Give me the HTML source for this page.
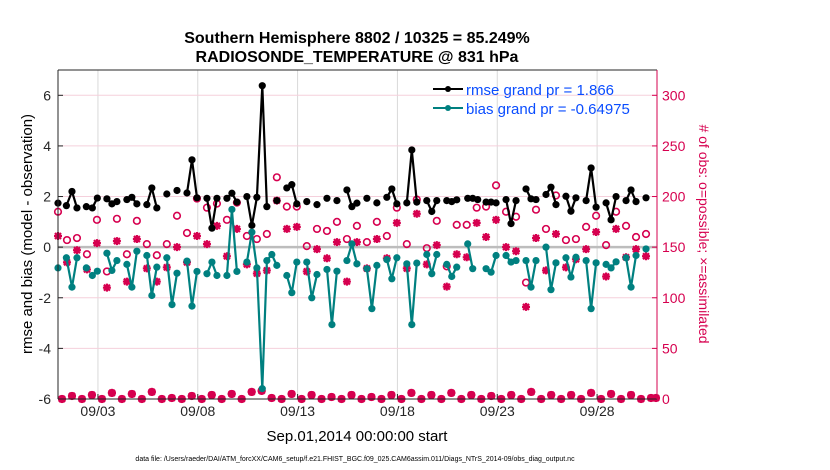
<!DOCTYPE html>
<html><head><meta charset="utf-8"><style>
body{margin:0;background:#fff;}
svg{display:block;font-family:"Liberation Sans",Arial,sans-serif;}
</style></head><body>
<svg id="chart" width="830" height="470" viewBox="0 0 830 470" xmlns="http://www.w3.org/2000/svg">
<rect width="830" height="470" fill="#fff"/>
<g id="grid"></g><g id="marks"></g><g id="axes"></g>
<text x="357" y="43" text-anchor="middle" font-size="16" font-weight="bold">Southern Hemisphere 8802 / 10325 = 85.249%</text>
<text x="357" y="62" text-anchor="middle" font-size="16" font-weight="bold">RADIOSONDE_TEMPERATURE @ 831 hPa</text>
<text x="357" y="441" text-anchor="middle" font-size="15">Sep.01,2014 00:00:00 start</text>
<text transform="translate(32,234) rotate(-90)" text-anchor="middle" font-size="15">rmse and bias (model - observation)</text>
<text transform="translate(699,234) rotate(90)" text-anchor="middle" font-size="14" fill="#d6004f"># of obs: o=possible; ×=assimilated</text>
<text x="355" y="461" text-anchor="middle" font-size="7">data file: /Users/raeder/DAI/ATM_forcXX/CAM6_setup/f.e21.FHIST_BGC.f09_025.CAM6assim.011/Diags_NTrS_2014-09/obs_diag_output.nc</text>
<g>
<line x1="433" y1="89" x2="463" y2="89" stroke="#000" stroke-width="2"/><circle cx="448" cy="89" r="3" fill="#000"/>
<text x="466" y="95" font-size="15" fill="#0a4dff">rmse grand pr = 1.866</text>
<line x1="433" y1="108" x2="463" y2="108" stroke="#008080" stroke-width="2"/><circle cx="448" cy="108" r="3" fill="#008080"/>
<text x="466" y="114" font-size="15" fill="#0a4dff">bias grand pr = -0.64975</text>
</g>
</svg>
<script>
const rmseDays=[1.00,1.42,1.70,1.95,2.42,2.72,2.97,3.45,3.70,3.95,4.45,4.70,4.95,5.45,5.70,5.95,6.45,6.96,7.46,7.71,7.96,8.46,8.71,8.96,9.46,9.71,9.96,10.46,10.71,10.96,11.23,11.46,11.96,12.46,12.71,12.96,13.46,13.97,14.47,14.97,15.47,15.72,15.97,16.47,16.97,17.47,17.72,17.97,18.47,18.72,18.97,19.47,19.72,19.97,20.47,20.72,20.97,21.52,21.77,22.02,22.44,22.69,22.94,23.44,23.69,23.94,24.44,24.69,24.94,25.44,25.69,25.94,26.44,26.69,26.94,27.45,27.70,27.95,28.45,28.70,28.95,29.45,29.70,29.95,30.45];
const rmseVals=[1.74,1.64,2.20,1.55,1.60,1.55,1.94,1.91,1.71,1.80,1.88,1.97,1.71,1.68,2.34,1.55,2.10,2.24,2.14,3.45,1.95,1.93,0.75,1.93,1.93,2.13,1.78,2.00,0.86,1.97,6.38,1.60,1.84,2.34,2.47,1.71,1.80,1.68,1.93,1.84,2.26,1.60,1.74,1.93,1.75,1.97,2.30,1.71,1.75,3.84,1.78,1.84,1.41,1.84,1.84,1.80,1.87,1.93,1.93,1.88,1.78,1.78,1.75,1.88,0.93,1.84,2.30,1.91,1.88,2.08,2.37,1.68,2.01,1.42,1.95,1.84,3.13,1.58,1.75,1.08,2.00,1.84,2.26,1.80,1.95];
const biasDays=[1.00,1.42,1.70,1.95,2.42,2.72,2.97,3.45,3.70,3.95,4.45,4.70,4.95,5.45,5.70,5.95,6.45,6.71,6.96,7.46,7.71,7.96,8.46,8.71,8.96,9.46,9.71,9.96,10.46,10.71,10.96,11.23,11.46,11.71,11.96,12.46,12.71,12.96,13.46,13.71,13.97,14.47,14.72,14.97,15.47,15.72,15.97,16.47,16.72,16.97,17.47,17.72,17.97,18.47,18.72,18.97,19.47,19.72,19.97,20.47,20.72,20.97,21.52,21.77,22.44,22.69,22.94,23.44,23.69,23.94,24.44,24.69,24.94,25.44,25.69,25.94,26.44,26.69,26.94,27.45,27.70,27.95,28.45,28.70,28.95,29.45,29.70,29.95,30.45];
const biasVals=[-0.82,-0.42,-1.58,-0.42,-0.82,-1.12,-0.95,-0.24,-0.92,-0.53,-0.68,-1.58,-0.16,-0.33,-1.91,-0.79,-0.42,-2.27,-1.03,-0.55,-2.33,-0.96,-1.05,-0.59,-1.12,-1.12,1.49,-0.96,-0.59,0.59,-0.82,-5.59,-0.53,-0.29,-0.72,-1.12,-1.80,-0.59,-0.59,-2.00,-1.08,-0.88,-3.06,-0.95,-0.53,0.13,-0.66,-0.85,-2.43,-0.72,-0.49,-1.25,-0.42,-0.66,-3.06,-0.63,-0.29,-1.05,-0.29,-0.68,-1.16,-0.79,0.13,-0.85,-0.85,-0.99,-0.33,-0.33,-0.59,-0.53,-0.53,-1.58,-0.53,0.00,-1.68,-0.62,-0.42,-1.18,-0.40,-0.53,-2.43,-0.62,-0.68,-0.82,-0.58,-0.42,-1.58,-0.33,-0.07];
const obsDays=[1.00,1.45,1.95,2.45,2.95,3.45,3.95,4.45,4.95,5.45,5.95,6.45,6.96,7.46,7.96,8.46,8.96,9.46,9.96,10.46,10.96,11.46,11.96,12.46,12.96,13.46,13.97,14.47,14.97,15.47,15.97,16.47,16.97,17.47,17.97,18.47,18.97,19.47,19.97,20.47,20.97,21.47,21.97,22.44,22.94,23.44,23.94,24.44,24.94,25.44,25.94,26.44,26.94,27.45,27.95,28.45,28.95,29.45,29.95,30.45];
const possibleVals=[185,157,159,143,177,126,178,143,176,153,142,153,181,164,198,189,193,177,194,161,158,163,219,190,190,151,168,166,175,158,171,155,175,161,189,153,197,149,176,131,172,172,189,190,211,185,180,115,187,168,201,157,158,170,181,152,185,171,160,163];
const assimVals=[161,135,147,128,154,110,156,116,158,129,116,130,150,135,161,153,171,141,168,133,124,127,196,168,170,126,148,139,155,116,155,129,158,139,174,129,183,133,152,111,143,140,174,160,177,150,146,91,159,127,163,130,138,148,165,121,168,140,148,141];
const lowDays=[1.2,1.7,2.2,2.7,3.2,3.7,4.2,4.7,5.2,5.7,6.2,6.7,7.2,7.7,8.2,8.7,9.2,9.7,10.2,10.7,11.2,11.7,12.2,12.7,13.2,13.7,14.2,14.7,15.2,15.7,16.2,16.7,17.2,17.7,18.2,18.7,19.2,19.7,20.2,20.7,21.2,21.7,22.2,22.7,23.2,23.7,24.2,24.7,25.2,25.7,26.2,26.7,27.2,27.7,28.2,28.7,29.2,29.7,30.2,30.7,30.95];
const lowVals=[0,3,0,4,0,6,0,5,0,7,0,1,0,3,0,4,0,5,0,7,8,1,0,5,0,4,0,2,0,4,0,2,0,4,0,6,0,4,0,6,0,4,0,3,0,4,0,7,0,4,0,4,0,6,0,5,0,4,0,1,1];
const leftTicks=[-6,-4,-2,0,2,4,6];
const rightTicks=[0,50,100,150,200,250,300];
const xTickDays=[3,8,13,18,23,28];
const xTickLabels=["09/03","09/08","09/13","09/18","09/23","09/28"];

const NS="http://www.w3.org/2000/svg";
const L=58,R=657,T=70,B=399;
const X=d=>L+(d-1)*(R-L)/30;
const Y=v=>B-(v+6)*(B-T)/13;
const YR=c=>B-c*(B-T)/325;
function mk(tag,attrs,parent){const e=document.createElementNS(NS,tag);for(const k in attrs)e.setAttribute(k,attrs[k]);parent.appendChild(e);return e;}
const grid=document.getElementById('grid'),marks=document.getElementById('marks'),axes=document.getElementById('axes');

xTickDays.forEach((d,i)=>{
  const g=mk('line',{x1:X(d),x2:X(d),y1:T,y2:B,stroke:'#d9d9d9','stroke-width':1},grid);
  
  
  const t=mk('text',{x:X(d),y:B+17,'text-anchor':'middle','font-size':14,fill:'#262626'},axes);
  t.textContent=xTickLabels[i];
  
  
  mk('line',{x1:X(d),x2:X(d),y1:B,y2:B-5,stroke:'#262626'},axes);
});
rightTicks.forEach(c=>{
  const g=mk('line',{x1:L,x2:R,y1:YR(c),y2:YR(c),stroke:'#f5d0dc','stroke-width':1},grid);
  
  
  const t=mk('text',{x:R+5,y:YR(c)+5,'font-size':14,fill:'#d6004f'},axes);
  t.textContent=c;
  
  
  mk('line',{x1:R,x2:R-5,y1:YR(c),y2:YR(c),stroke:'#d6004f'},axes);
});
leftTicks.forEach(v=>{
  const t=mk('text',{x:L-7,y:Y(v)+5,'text-anchor':'end','font-size':14,fill:'#262626'},axes);
  t.textContent=v;
  
  
  mk('line',{x1:L,x2:L+5,y1:Y(v),y2:Y(v),stroke:'#262626'},axes);
});
const z=mk('line',{x1:L,x2:R,y1:Y(0),y2:Y(0),stroke:'#bdbdbd','stroke-width':2.5},grid);



function series(days,vals,color,name){
  let d='';
  days.forEach((t,i)=>{const p=X(t).toFixed(1)+','+Y(vals[i]).toFixed(1);d+=(i===0||t-days[i-1]>0.3?'M':'L')+p;});
  const pth=mk('path',{d:d,fill:'none',stroke:color,'stroke-width':2.2,'stroke-linejoin':'round'},marks);
  
  
  days.forEach((t,i)=>{
    const c=mk('circle',{cx:X(t),cy:Y(vals[i]),r:3.6,fill:color},marks);
    
    
  });
}
function circ(days,vals,name){
  days.forEach((t,i)=>{
    const c=mk('circle',{cx:X(t),cy:YR(vals[i]),r:3.3,fill:'none',stroke:'#d6004f','stroke-width':1.6},marks);
    
    
  });
}
function star(days,vals,name){
  days.forEach((t,i)=>{
    const x=X(t),y=YR(vals[i]),s=4;
    const p=mk('path',{d:`M${x-s},${y}L${x+s},${y}M${x},${y-s}L${x},${y+s}M${x-3},${y-3}L${x+3},${y+3}M${x-3},${y+3}L${x+3},${y-3}`,stroke:'#d6004f','stroke-width':2.2},marks);
    
    
  });
}
circ(obsDays,possibleVals,'possible-obs-marker');
circ(lowDays,lowVals,'possible-obs-marker');
star(obsDays,assimVals,'assimilated-obs-marker');
star(lowDays,lowVals,'assimilated-obs-marker');
series(rmseDays,rmseVals,'#000','rmse');
series(biasDays,biasVals,'#008080','bias');

mk('line',{x1:L,x2:L,y1:T,y2:B,stroke:'#262626'},axes);
mk('line',{x1:L,x2:R,y1:B,y2:B,stroke:'#262626'},axes);
mk('line',{x1:L,x2:R,y1:T,y2:T,stroke:'#262626'},axes);
mk('line',{x1:R,x2:R,y1:T,y2:B,stroke:'#d6004f'},axes);
</script>
</body></html>
